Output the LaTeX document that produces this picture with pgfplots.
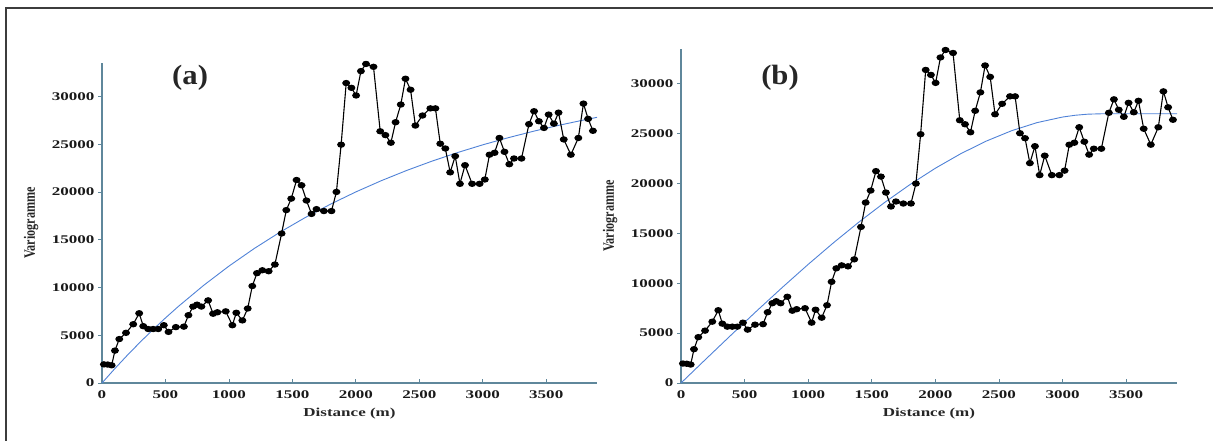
\documentclass[border=0pt]{standalone}
\usepackage{fontspec}
\setmainfont{Liberation Serif}
\newfontfamily\tickfont{Liberation Serif}[FakeStretch=1.45]
\newfontfamily\labfont{Liberation Serif}[FakeStretch=1.4]
\newfontfamily\panfont{Liberation Serif}[FakeStretch=1.1]
\usepackage{pgfplots}
\usepackage{pgfplotstable}
\pgfplotsset{compat=1.18}

\pgfplotstableread{
x y
15 1950
45 1930
76 1850
102 3390
136 4600
189 5250
246 6150
293 7300
325 5950
364 5650
403 5650
443 5650
487 6050
524 5350
582 5850
645 5900
681 7100
718 8000
749 8200
783 8000
836 8650
875 7250
909 7400
975 7500
1027 6050
1058 7350
1106 6550
1148 7800
1184 10150
1221 11500
1263 11800
1313 11700
1362 12400
1415 15650
1452 18100
1491 19300
1533 21250
1572 20700
1611 19100
1651 17700
1690 18200
1748 18000
1808 18000
1847 20000
1884 24950
1924 31400
1965 30900
2002 30100
2040 32650
2080 33400
2139 33100
2192 26350
2233 25950
2276 25150
2313 27300
2354 29150
2391 31850
2431 30700
2469 26950
2525 28000
2587 28750
2627 28750
2665 25050
2705 24550
2743 22050
2783 23750
2820 20850
2860 22800
2916 20850
2975 20850
3016 21300
3053 23900
3093 24100
3131 25650
3171 24200
3209 22900
3246 23500
3305 23500
3364 27100
3404 28450
3442 27400
3482 26700
3519 28100
3560 27150
3597 28300
3638 25500
3694 23900
3753 25650
3793 29250
3830 27650
3868 26400
}\vario

\pgfplotstableread{
x y
0 0
100 1488
200 2911
300 4270
400 5569
500 6810
600 7996
800 10212
1000 12236
1200 14083
1400 15770
1600 17311
1800 18718
2000 20003
2200 21176
2400 22247
2600 23225
2800 24118
3000 24933
3200 25677
3400 26357
3600 26978
3800 27545
3900 27809
}\modela

\pgfplotstableread{
x y
0 0
200 2452
400 4885
600 7283
800 9626
1000 11897
1200 14078
1400 16151
1600 18098
1800 19900
2000 21540
2200 23000
2400 24261
2600 25306
2800 26117
3000 26675
3100 26854
3200 26963
3300 27000
3900 27000
}\modelb

\definecolor{axcol}{RGB}{95,135,155}
\definecolor{modcol}{RGB}{80,130,215}
\definecolor{framecol}{RGB}{60,60,60}

\pgfplotsset{
  varstyle/.style={
    scale only axis,
    anchor=south west,
    xmin=0, xmax=3900, ymin=0, ymax=33500,
    axis x line*=bottom, axis y line*=left,
    axis line style={axcol, line width=1.1bp},
    xtick={0,500,...,3500},
    ytick={0,5000,...,30000},
    xtick align=inside, ytick align=outside,
    major tick length=4bp,
    tick style={axcol, line width=0.8bp},
    scaled ticks=false,
    /pgf/number format/assume math mode=true,
    /pgf/number format/set thousands separator={},
    ticklabel style={font={\tickfont\bfseries\fontsize{11.8}{12}\selectfont}, text=black!90},
    xticklabel style={yshift=-4bp},
    xlabel={Distance (m)},
    ylabel={\scalebox{1}[1.3]{Variogramme}},
    clip=false,
  },
  serie/.style={black, line width=1.1bp, mark=*, mark size=2.6bp, mark options={xscale=1.3, fill=black, draw=black}},
  modl/.style={modcol, line width=0.9bp, no marks},
}

\begin{document}
\begin{tikzpicture}[x=1bp,y=1bp]
\path[use as bounding box] (0,0) rectangle (1213,441);
\draw[line width=2bp, framecol] (6,0) -- (6,432.7) -- (1213,432.7);

\begin{axis}[varstyle, at={(102bp,58bp)}, width=495bp, height=320bp,
  every axis x label/.style={at={(axis description cs:0.5,-0.0969)}, anchor=center, font={\labfont\bfseries\fontsize{12.2}{13}\selectfont}, text=black!85},
  every axis y label/.style={at={(axis description cs:-0.1434,0.5)}, rotate=90, anchor=center, font={\bfseries\fontsize{12.2}{13}\selectfont}, text=black!85}]
  \addplot[modl] table[x=x,y=y]{\modela};
  \addplot[serie] table[x=x,y=y]{\vario};
  \node[font={\panfont\bfseries\fontsize{28}{30}\selectfont}, text=black!85] at (axis description cs:0.178,0.953) {(a)};
\end{axis}

\begin{axis}[varstyle, at={(681bp,58bp)}, width=496bp, height=334bp,
  every axis x label/.style={at={(axis description cs:0.5,-0.0928)}, anchor=center, font={\labfont\bfseries\fontsize{12.2}{13}\selectfont}, text=black!85},
  every axis y label/.style={at={(axis description cs:-0.1431,0.5)}, rotate=90, anchor=center, font={\bfseries\fontsize{12.2}{13}\selectfont}, text=black!85}]
  \addplot[modl] table[x=x,y=y]{\modelb};
  \addplot[serie] table[x=x,y=y]{\vario};
  \node[font={\panfont\bfseries\fontsize{28}{30}\selectfont}, text=black!85] at (axis description cs:0.1996,0.913) {(b)};
\end{axis}
\end{tikzpicture}
\end{document}
